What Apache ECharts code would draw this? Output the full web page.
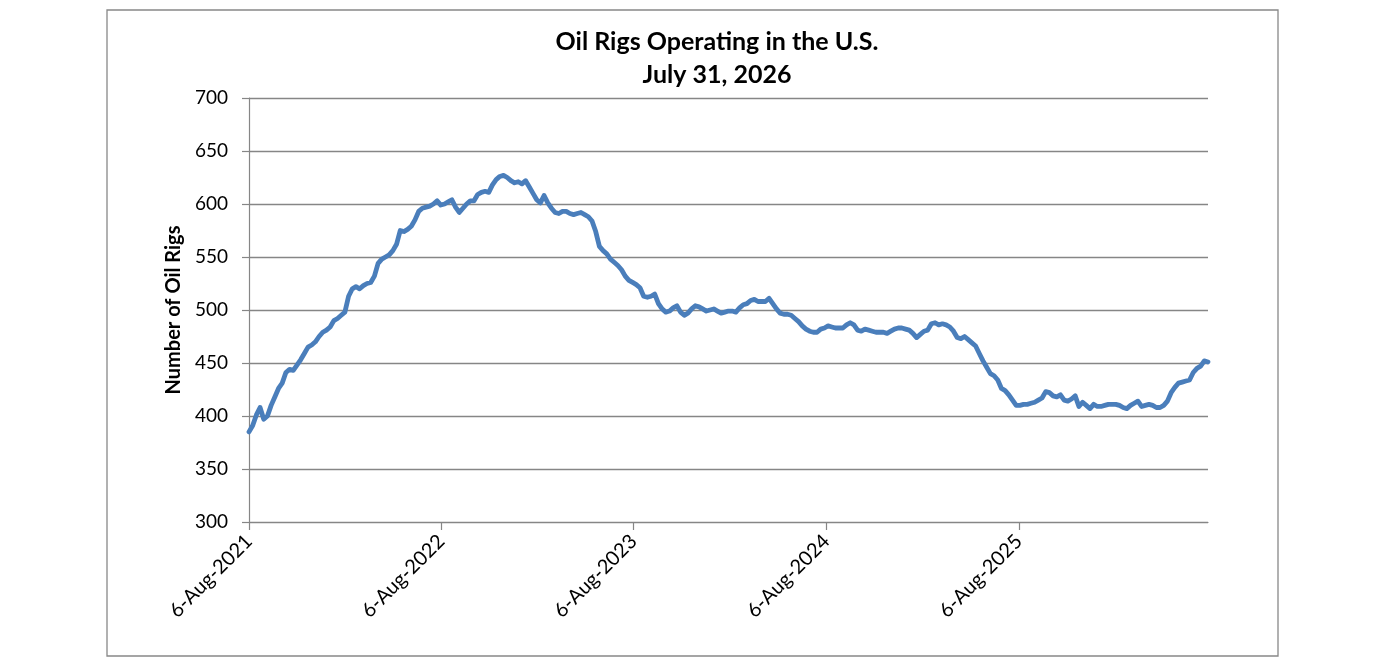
<!DOCTYPE html>
<html>
<head>
<meta charset="utf-8">
<script src="https://cdn.jsdelivr.net/npm/echarts@6/dist/echarts.min.js"></script>
<style>
html,body{margin:0;padding:0;background:#fff;}
#chart{width:1379px;height:662px;}
</style>
</head>
<body>
<div id="chart"></div>
<script>
// Weekly U.S. oil rig counts, starting 6-Aug-2021, one value per week
const startDate = '2021-08-06';
const rigCounts = [
385,391,401,408,397,400,410,418,426,431,441,444,443,448,453,459,465,467,470,475,
479,481,484,490,492,495,498,513,520,522,520,523,525,526,532,544,548,550,552,556,
562,575,574,576,579,585,593,596,597,598,600,603,599,600,602,604,597,592,596,600,
603,603,609,611,612,611,618,623,626,627,625,622,620,621,619,622,616,610,604,601,
608,601,596,592,591,593,593,591,590,591,592,590,588,584,574,560,556,553,548,545,
542,538,532,528,526,524,521,513,512,513,515,506,501,498,499,502,504,498,495,497,
501,504,503,501,499,500,501,499,497,498,499,499,498,502,505,506,509,510,508,508,
508,511,506,501,497,496,496,495,492,489,485,482,480,479,479,482,483,485,484,483,
483,483,486,488,486,481,480,482,481,480,479,479,479,478,480,482,483,483,482,481,
478,474,477,480,481,487,488,486,487,486,484,480,474,473,475,472,469,466,459,452,
446,440,438,434,426,424,420,415,410,410,411,411,412,413,415,417,423,422,419,418,
420,415,414,416,419,409,413,410,407,411,409,409,410,411,411,411,410,408,407,410,
412,414,409,410,411,410,408,408,410,414,422,427,431,432,433,434,441,445,447,452,451
];
const daysPerPoint = 7;
const lastDay = 1820;            // 31-Jul-2026
const tickDays = [0, 365, 730, 1096, 1461];
const tickLabels = ['6-Aug-2021', '6-Aug-2022', '6-Aug-2023', '6-Aug-2024', '6-Aug-2025'];
const yTicks = {min: 300, max: 700, step: 50};
const titleLines = ['Oil Rigs Operating in the U.S.', 'July 31, 2026'];
const yName = 'Number of Oil Rigs';

const seriesData = rigCounts.map((v, i) => [i * daysPerPoint, v]);

const chart = echarts.init(document.getElementById('chart'), null, {renderer: 'canvas'});
const FONT = 'Lato';
const GRAY = '#868686';
chart.setOption({
  animation: false,
  backgroundColor: '#ffffff',
  title: {
    text: titleLines.join('\n'),
    left: 717,
    textAlign: 'center',
    top: 25,
    padding: 0,
    textStyle: {fontFamily: FONT, fontWeight: 'bold', fontSize: 25, lineHeight: 33, color: '#000'}
  },
  graphic: [{
    type: 'rect',
    shape: {x: 107, y: 10, width: 1171, height: 646},
    style: {fill: 'none', stroke: '#888888', lineWidth: 1.3},
    silent: true
  }],
  grid: {left: 249, right: 171, top: 98, bottom: 140, containLabel: false},
  xAxis: {
    type: 'value',
    min: 0,
    max: lastDay,
    splitLine: {show: false},
    axisLine: {show: true, lineStyle: {color: GRAY, width: 1.2}},
    axisTick: {show: true, customValues: tickDays, length: 8, lineStyle: {color: GRAY, width: 1.2}},
    axisLabel: {
      customValues: tickDays,
      rotate: 45,
      margin: 16,
      fontFamily: FONT,
      fontSize: 20,
      color: '#000',
      formatter: function (v) {
        const k = tickDays.indexOf(v);
        return k >= 0 ? tickLabels[k] : '';
      }
    }
  },
  yAxis: {
    type: 'value',
    min: yTicks.min,
    max: yTicks.max,
    interval: yTicks.step,
    name: yName,
    nameLocation: 'middle',
    nameGap: 64,
    nameTextStyle: {fontFamily: FONT, fontWeight: 'bold', fontSize: 20, color: '#000'},
    axisLine: {show: true, lineStyle: {color: GRAY, width: 1.2}},
    axisTick: {show: true, length: 7, lineStyle: {color: GRAY, width: 1.2}},
    axisLabel: {margin: 21, fontFamily: FONT, fontSize: 19, color: '#000'},
    splitLine: {show: true, lineStyle: {color: GRAY, width: 1.3}}
  },
  series: [{
    type: 'line',
    data: seriesData,
    showSymbol: false,
    symbol: 'none',
    smooth: false,
    lineStyle: {color: '#4a7ebb', width: 4.8, join: 'round', cap: 'round'},
    itemStyle: {color: '#4a7ebb'}
  }]
});
</script>
</body>
</html>
